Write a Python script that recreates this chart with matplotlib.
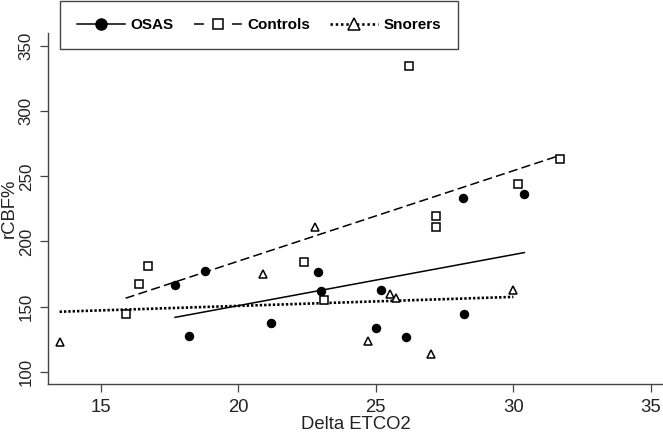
import numpy as np
import matplotlib
matplotlib.use("Agg")
import matplotlib.pyplot as plt
from matplotlib.lines import Line2D

# values
osas_x = [17.7, 18.8, 18.2, 21.2, 22.9, 23.0, 25.2, 25.0, 26.1, 28.2, 28.15, 30.4]
osas_y = [166.3, 177.6, 127.4, 137.1, 176.6, 162.0, 162.5, 133.8, 126.9, 144.6, 233.4, 236.2]

ctrl_x = [15.9, 16.4, 16.7, 22.4, 23.1, 26.2, 27.2, 27.2, 30.15, 31.7]
ctrl_y = [144.1, 167.1, 181.2, 184.3, 155.1, 335.0, 219.6, 211.4, 244.4, 263.4]

snor_x = [13.5, 20.9, 22.8, 24.7, 25.5, 25.75, 27.0, 30.0]
snor_y = [122.6, 174.8, 210.9, 123.8, 159.9, 156.6, 113.6, 162.7]

xticks = [15, 20, 25, 30, 35]
yticks = [100, 150, 200, 250, 300, 350]

plt.rcParams["font.family"] = ["Liberation Sans", "DejaVu Sans"]
grey = "#444444"

W, H = 663, 432
fig = plt.figure(figsize=(W / 100, H / 100), dpi=100)
ax = fig.add_axes([48.3 / W, 48 / H, 1 - 48.3 / W, (384 - 33.2) / H])
ax.set_xlim(13.09, 35.44)
ax.set_ylim(90.5, 360)

# points
ax.plot(osas_x, osas_y, "o", ms=5.8, color="black", zorder=3)
ax.plot(ctrl_x, ctrl_y, "s", ms=5.6, mfc="white", mec="black", mew=1.1, zorder=3)
ax.plot(snor_x, snor_y, "^", ms=6.0, mfc="white", mec="black", mew=1.1, zorder=3)

# fitted lines over each group's range
styles = [(osas_x, osas_y, dict(ls="-", lw=1.1)),
          (ctrl_x, ctrl_y, dict(ls=(0, (6.0, 2.8)), lw=1.1)),
          (snor_x, snor_y, dict(ls=(0, (0.9, 0.75)), lw=1.9))]
for xs, ys, st in styles:
    b, a = np.polyfit(xs, ys, 1)
    xx = np.array([min(xs), max(xs)])
    ax.plot(xx, a + b * xx, color="black", zorder=2, **st)

# axes look (R style, bty = "l")
for s in ["top", "right"]:
    ax.spines[s].set_visible(False)
for s in ["left", "bottom"]:
    ax.spines[s].set_color(grey)
    ax.spines[s].set_linewidth(1.0)
ax.set_xticks(xticks)
ax.set_yticks(yticks)
ax.tick_params(direction="out", length=5.5, width=0.9, color=grey, pad=5)
ax.tick_params(axis="x", labelsize=13.3, labelcolor="#222222")
ax.tick_params(axis="y", labelsize=12.2, labelcolor="#222222")
plt.setp(ax.get_yticklabels(), rotation=90, va="center")

ax.set_xlabel("Delta ETCO2", fontsize=13.3, color="#222222", labelpad=0)
ax.set_ylabel("rCBF%", fontsize=13.3, color="#222222")
ax.yaxis.set_label_coords(-0.049, 0.5)

# legend at the top
handles = [
    Line2D([], [], color="black", ls="-", lw=1.1, marker="o", ms=8),
    Line2D([], [], color="black", ls=(0, (6.5, 18.3)), lw=1.1, marker="s", ms=7.5,
           mfc="white", mew=1.1),
    Line2D([], [], color="black", ls=(0, (0.9, 1.1)), lw=1.9, marker="^", ms=8,
           mfc="white", mew=1.1),
]
labels = ["OSAS", "Controls", "Snorers"]
leg = fig.legend(handles, labels, loc="lower left", ncol=3,
                 bbox_to_anchor=(60 / W, (H - 49.3) / H),
                 prop=dict(weight="bold", size=11),
                 handlelength=3.14, handletextpad=0.33,
                 columnspacing=1.35, borderpad=1.12, borderaxespad=0,
                 fancybox=False, framealpha=1)
leg.get_frame().set_edgecolor(grey)
leg.get_frame().set_linewidth(1.0)

fig.savefig("out.png", dpi=100)
